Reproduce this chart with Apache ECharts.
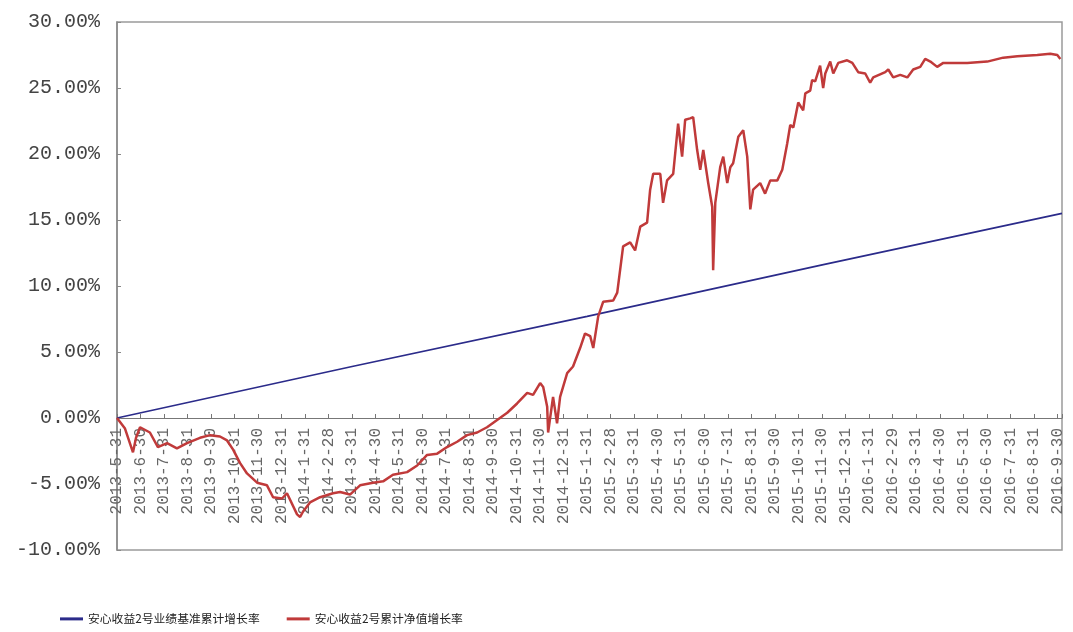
<!DOCTYPE html>
<html>
<head>
<meta charset="utf-8">
<script src="https://cdn.jsdelivr.net/npm/echarts@6/dist/echarts.min.js"></script>
<style>
html,body{margin:0;padding:0;background:#fff;}
#chart{width:1073px;height:632px;}
</style>
</head>
<body>
<div id="chart"></div>
<script>
// Month-end tick labels (x position = month index)
const dateLabels = [
  '2013-5-31','2013-6-30','2013-7-31','2013-8-31','2013-9-30','2013-10-31','2013-11-30','2013-12-31',
  '2014-1-31','2014-2-28','2014-3-31','2014-4-30','2014-5-31','2014-6-30','2014-7-31','2014-8-31',
  '2014-9-30','2014-10-31','2014-11-30','2014-12-31',
  '2015-1-31','2015-2-28','2015-3-31','2015-4-30','2015-5-31','2015-6-30','2015-7-31','2015-8-31',
  '2015-9-30','2015-10-31','2015-11-30','2015-12-31',
  '2016-1-31','2016-2-29','2016-3-31','2016-4-30','2016-5-31','2016-6-30','2016-7-31','2016-8-31','2016-9-30'
];

const seriesNames = ['安心收益2号业绩基准累计增长率', '安心收益2号累计净值增长率'];

// Benchmark cumulative growth (%), read at month positions
const benchX = [0, 10, 20, 30, 40.2];
const benchY = [0, 3.9, 7.7, 11.6, 15.5];

// Net value cumulative growth (%)
const netX = [0,0.34,0.68,0.81,0.98,1.40,1.74,2.13,2.55,2.98,3.53,3.96,4.38,4.68,4.94,5.23,5.53,5.96,6.38,6.64,
  7.02,7.23,7.66,7.79,7.91,8.21,8.64,9.19,9.49,9.91,10.34,10.89,11.32,11.74,12.34,12.77,13.19,13.62,14.04,14.47,
  14.89,15.32,15.74,16.17,16.60,17.02,17.45,17.70,18.00,18.13,18.30,18.34,18.55,18.72,18.85,19.15,19.40,19.70,19.91,20.13,
  20.26,20.47,20.68,21.11,21.28,21.53,21.83,22.04,22.26,22.55,22.68,22.81,23.11,23.23,23.40,23.66,23.87,24.04,24.17,24.38,
  24.51,24.68,24.81,24.94,25.15,25.32,25.36,25.45,25.66,25.79,25.96,26.09,26.21,26.43,26.64,26.81,26.94,27.06,27.36,27.57,
  27.79,28.09,28.30,28.51,28.64,28.77,28.98,29.19,29.28,29.49,29.57,29.70,29.91,30.04,30.13,30.34,30.47,30.68,31.06,31.28,
  31.53,31.83,32.04,32.17,32.68,32.81,33.02,33.32,33.62,33.87,34.17,34.38,34.60,34.89,35.15,36.17,37.02,37.70,38.30,39.15,
  39.70,40.00,40.13];
const netY = [0,-0.8,-2.6,-1.5,-0.7,-1.1,-2.2,-1.9,-2.3,-1.9,-1.5,-1.3,-1.4,-1.7,-2.4,-3.4,-4.2,-4.9,-5.1,-6.0,
  -6.1,-5.7,-7.3,-7.5,-7.1,-6.4,-6.0,-5.7,-5.6,-5.8,-5.1,-4.9,-4.8,-4.3,-4.1,-3.6,-2.8,-2.7,-2.2,-1.8,
  -1.3,-1.1,-0.7,-0.15,0.4,1.1,1.9,1.75,2.65,2.35,0.85,-1.1,1.6,-0.4,1.6,3.4,3.9,5.3,6.4,6.2,
  5.3,7.7,8.8,8.9,9.5,13.0,13.3,12.7,14.5,14.8,17.3,18.5,18.5,16.3,18.0,18.5,22.3,19.8,22.6,22.7,
  22.8,20.3,18.8,20.3,17.8,16.0,11.2,16.3,19.0,19.8,17.8,19.0,19.3,21.3,21.8,19.8,15.8,17.3,17.8,17.0,
  18.0,18.0,18.8,20.8,22.2,22.0,23.9,23.3,24.6,24.8,25.6,25.5,26.7,25.0,26.1,27.0,26.1,26.9,27.1,26.9,
  26.2,26.1,25.4,25.8,26.2,26.4,25.8,26.0,25.8,26.4,26.6,27.2,27.0,26.6,26.9,26.9,27.0,27.3,27.4,27.5,
  27.6,27.5,27.2];

const benchData = benchX.map((x, i) => [x, benchY[i]]);
const netData = netX.map((x, i) => [x, netY[i]]);

const yMin = -10, yMax = 30;
const gridTop = 22, gridBottom = 82, chartH = 632;
const plotH = chartH - gridTop - gridBottom;
// move x axis up to the zero line (layout offset)
const xOffset = -plotH * (0 - yMin) / (yMax - yMin);

const chart = echarts.init(document.getElementById('chart'), null, {renderer: 'canvas'});
chart.setOption({
  animation: false,
  backgroundColor: '#ffffff',
  grid: {
    left: 117, right: 11, top: gridTop, bottom: gridBottom,
    outerBoundsMode: 'none', containLabel: false,
    show: true, borderColor: '#9a9a9a', borderWidth: 1.5, backgroundColor: 'transparent'
  },
  legend: {
    left: 55, top: 608,
    itemWidth: 23, itemHeight: 3, itemGap: 27, icon: 'rect',
    textStyle: {fontFamily: '"Noto Sans CJK SC", sans-serif', fontSize: 11.8, color: '#222'},
    data: seriesNames
  },
  xAxis: {
    type: 'value', min: 0, max: 40.2, interval: 1,
    position: 'bottom', offset: xOffset,
    axisLine: {show: true, onZero: false, lineStyle: {color: '#777', width: 1.2}},
    axisTick: {show: true, inside: true, length: 4, lineStyle: {color: '#777'}},
    splitLine: {show: false},
    axisLabel: {
      rotate: 90, margin: 10, color: '#666',
      fontFamily: '"Liberation Mono", monospace', fontSize: 16,
      formatter: v => (Number.isInteger(v) && dateLabels[v]) ? dateLabels[v] : ''
    }
  },
  yAxis: {
    type: 'value', min: yMin, max: yMax, interval: 5,
    axisLine: {show: true, lineStyle: {color: '#888', width: 1.5}},
    axisTick: {show: true, inside: true, length: 4, lineStyle: {color: '#888'}},
    splitLine: {show: false},
    axisLabel: {
      margin: 17, color: '#444',
      fontFamily: '"Liberation Mono", monospace', fontSize: 20,
      formatter: v => v.toFixed(2) + '%'
    }
  },
  series: [
    {
      name: seriesNames[0], type: 'line', data: benchData, showSymbol: false,
      lineStyle: {color: '#2b2b8a', width: 1.6}, itemStyle: {color: '#2b2b8a'}, z: 2
    },
    {
      name: seriesNames[1], type: 'line', data: netData, showSymbol: false,
      lineStyle: {color: '#c03a3a', width: 2.5}, itemStyle: {color: '#c03a3a'}, z: 3
    }
  ]
});
</script>
</body>
</html>
